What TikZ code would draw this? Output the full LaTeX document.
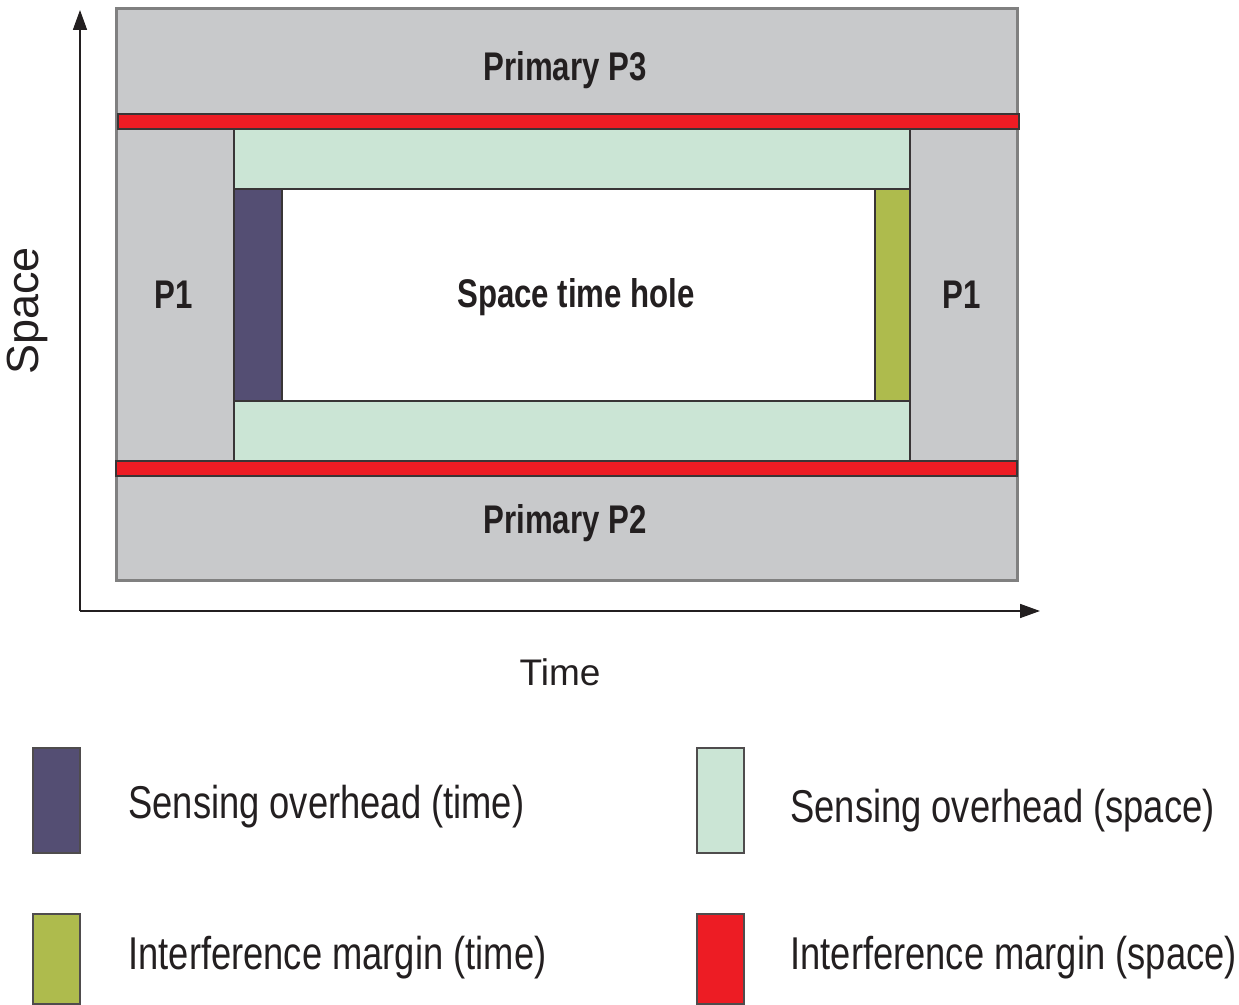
\documentclass[tikz,border=0pt]{standalone}
\usepackage{fontspec}
\setmainfont{Liberation Sans}
\newfontfamily\narrowfont{Liberation Sans}[FakeStretch=0.78]
\newfontfamily\legendfont{Liberation Sans}[FakeStretch=0.79]
\usetikzlibrary{arrows.meta}

\definecolor{primgray}{RGB}{200,201,203}
\definecolor{edgegray}{RGB}{128,128,128}
\definecolor{intred}{RGB}{237,28,36}
\definecolor{senspace}{RGB}{203,229,213}
\definecolor{sentime}{RGB}{84,78,115}
\definecolor{inttime}{RGB}{174,187,77}
\definecolor{inkdark}{RGB}{35,31,32}

\begin{document}
\begin{tikzpicture}%
        [x=0.5pt,
        y=-0.5pt,
        primary/.style={fill=primgray,draw=edgegray,line width=1.5pt},
        block/.style={draw=inkdark!90,line width=0.7pt},
        axis/.style={draw=inkdark,line width=0.8pt,-{Triangle[length=10pt,width=7pt]}},
        bold label/.style={font=\narrowfont\bfseries\fontsize{20}{23}\selectfont,text=inkdark},
        axis label/.style={font=\fontsize{18.5}{21}\selectfont,text=inkdark},
        legend text/.style={font=\legendfont\fontsize{23}{26}\selectfont,text=inkdark,anchor=base west,inner sep=0pt},
        legend box/.style={draw=inkdark!80,line width=0.6pt}]

    \useasboundingbox (0,0) rectangle (1239,1005);

    %% Drawing the axes
    \coordinate (origin) at (80,611);
    \coordinate (spacetip) at (80,10);
    \coordinate (timetip) at (1040,611);
    \draw[axis] (origin) -- (spacetip);
    \draw[axis] (origin) -- (timetip);
    \node[axis label,rotate=90,font=\fontsize{22.5}{25}\selectfont] (spacelab) at (27,311) {Space};
    \node[axis label] (timelab) at (560,672) {Time};
    %%
    %% Drawing the primaries
    %%
    \filldraw[primary] (116,9) rectangle (1017,581);
    \filldraw[block,fill=senspace] (234,129) rectangle (910,461);
    \filldraw[block,fill=white] (282,189) rectangle (875,401);
    \filldraw[block,fill=sentime] (234,189) rectangle (282,401);
    \filldraw[block,fill=inttime] (875,189) rectangle (910,401);
    \filldraw[block,fill=intred] (118,114) rectangle (1019,129);
    \filldraw[block,fill=intred] (116,461) rectangle (1017,476);
    %%
    %% Drawing the labels
    %%
    \node[bold label] (p3) at (565,70) {Primary P3};
    \node[bold label] (p2) at (565,523) {Primary P2};
    \node[bold label] (p1left) at (174,295) {P1};
    \node[bold label] (p1right) at (962,295) {P1};
    \node[bold label] (hole) at (576,297) {Space time hole};
    %%
    %% Drawing the legend
    %%
    \filldraw[legend box,fill=sentime] (33,748) rectangle (80,853);
    \filldraw[legend box,fill=inttime] (33,914) rectangle (80,1004);
    \filldraw[legend box,fill=senspace] (697,748) rectangle (744,853);
    \filldraw[legend box,fill=intred] (697,914) rectangle (744,1004);
    \node[legend text] (senstime) at (128,819) {Sensing overhead (time)};
    \node[legend text] (inttimetxt) at (128,970) {Interference margin (time)};
    \node[legend text] (sensspace) at (790,823) {Sensing overhead (space)};
    \node[legend text] (intspacetxt) at (790,970) {Interference margin (space)};
    %%
    %%
    \end{tikzpicture}
\end{document}
